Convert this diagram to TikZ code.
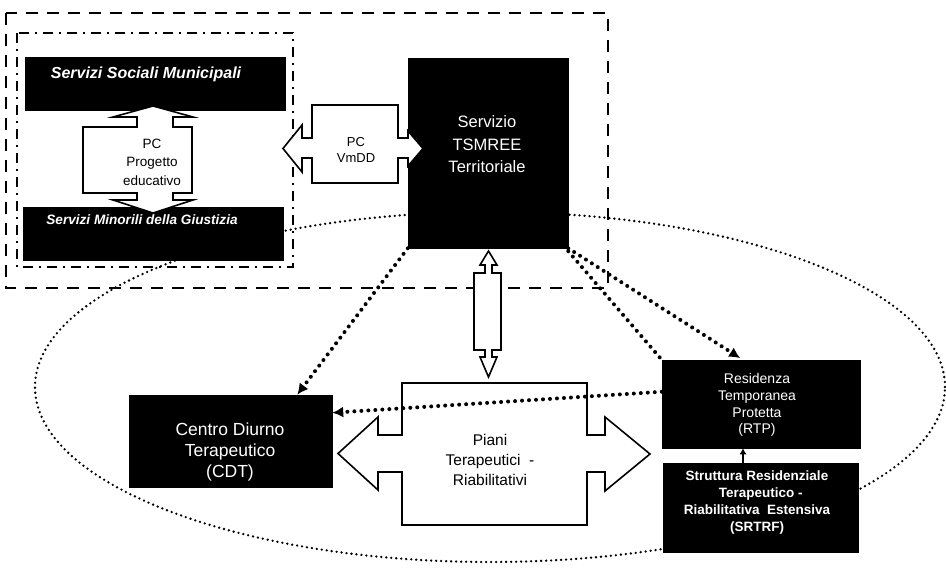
\documentclass[tikz,border=0pt]{standalone}
\usepackage{fontspec}
\setmainfont{Liberation Sans}
\usetikzlibrary{arrows.meta}
\begin{document}
\begin{tikzpicture}[x=1pt,y=-1pt,
  blackbox/.style={fill=black,draw=black,inner sep=0pt,line width=0.5pt},
  wtext/.style={text=white,align=center,inner sep=0pt},
  btext/.style={text=black,align=center,inner sep=0pt},
  callout/.style={draw=black,fill=white,line width=1.6pt,line join=miter},
  outerbox/.style={draw=black,line width=2.6pt,dash pattern=on 12pt off 9pt},
  innerbox/.style={draw=black,line width=2pt,dash pattern=on 10pt off 6pt on 2pt off 6pt},
  orbit/.style={draw=black,line width=2.6pt,line cap=round,dash pattern=on 0pt off 5pt},
  dotline/.style={draw=black,line width=4pt,line cap=round,dash pattern=on 0pt off 7pt},
  dotarrow/.style={dotline,-{Latex[length=11pt,width=11pt]}}]

\fill[white] (0,0) rectangle (946,575);
\useasboundingbox (0,0) rectangle (946,575);

% dotted ellipse (behind everything)
\draw[orbit] (490,387) ellipse [x radius=455pt, y radius=175pt];

% dashed frames
\draw[outerbox] (6,13) rectangle (608,288);
\draw[innerbox] (17,33) rectangle (293,267);

% black boxes
\node[blackbox,minimum width=260pt,minimum height=53pt] (soc) at (155,83.5) {};
\node[blackbox,minimum width=260pt,minimum height=53pt] (min) at (153,233.5) {};
\node[blackbox,minimum width=160pt,minimum height=190pt] (tsm) at (488,153) {};
\node[blackbox,minimum width=203pt,minimum height=92pt] (cdt) at (230.5,441) {};
\node[blackbox,minimum width=198pt,minimum height=88pt] (rtp) at (761,404) {};
\node[blackbox,minimum width=195pt,minimum height=89pt] (srt) at (760.5,507.5) {};

% arrow callout shapes
\draw[callout] (83,127) -- (137,127) -- (137,117) -- (113,117) -- (153,106) -- (193,117)
  -- (173,117) -- (173,127) -- (192,127) -- (192,193) -- (173,193) -- (173,200)
  -- (193,200) -- (153,213) -- (113,200) -- (137,200) -- (137,193) -- (83,193) -- cycle;
\draw[callout] (312,105) -- (398,105) -- (398,138) -- (408,138) -- (408,131) -- (423,148.5)
  -- (408,166) -- (408,158) -- (398,158) -- (398,183) -- (312,183) -- (312,158)
  -- (302,158) -- (302,172) -- (283,148.5) -- (302,125) -- (302,138) -- (312,138) -- cycle;
\draw[callout] (474,273) -- (485,273) -- (485,265) -- (480,265) -- (488.5,251) -- (497,265)
  -- (492,265) -- (492,273) -- (501,273) -- (501,350) -- (492,350) -- (492,357)
  -- (497,357) -- (488.5,377) -- (480,357) -- (485,357) -- (485,350) -- (474,350) -- cycle;
\draw[callout] (402,383) -- (587,383) -- (587,435) -- (605,435) -- (605,417) -- (650,454)
  -- (605,491) -- (605,472) -- (587,472) -- (587,525) -- (402,525) -- (402,472)
  -- (378,472) -- (378,490) -- (338,453.5) -- (378,417) -- (378,435) -- (402,435) -- cycle;

% texts
\node[wtext,font=\bfseries\itshape\fontsize{16}{19}\selectfont] (socT) at (146,74) {Servizi Sociali Municipali};
\node[wtext,font=\bfseries\itshape\fontsize{13.6}{16}\selectfont] (minT) at (142,220) {Servizi Minorili della Giustizia};
\node[wtext,font=\fontsize{16.5}{22.5}\selectfont] (tsmT) at (487,144.5) {Servizio\\TSMREE\\Territoriale};
\node[wtext,font=\fontsize{17.5}{21}\selectfont] (cdtT) at (230,452) {Centro Diurno\\Terapeutico\\(CDT)};
\node[wtext,font=\fontsize{14}{16.8}\selectfont] (rtpT) at (757,405) {Residenza\\Temporanea\\Protetta\\(RTP)};
\node[wtext,font=\bfseries\fontsize{13.5}{17}\selectfont] (srtT) at (757,503) {Struttura Residenziale\\\ \ Terapeutico -\\Riabilitativa \ Estensiva\\(SRTRF)};
\node[btext,font=\fontsize{15.5}{20}\selectfont] (pianiT) at (490,460) {Piani\\Terapeutici \ -\\Riabilitativi};
\node[btext,font=\fontsize{13.5}{18.5}\selectfont] (eduT) at (152,162) {PC\\Progetto\\educativo};
\node[btext,font=\fontsize{13}{15.5}\selectfont] (vmT) at (356,150) {PC\\VmDD};

% dotted connectors
\coordinate (cdtIn) at ([xshift=-35pt]cdt.north east);
\coordinate (rtpIn) at ([xshift=81pt]rtp.north west);
\coordinate (rtpOut) at ([yshift=-32pt]rtp.north west);
\coordinate (cdtSide) at ([yshift=-18pt]cdt.north east);
\coordinate (srtUp) at ([xshift=-17.5pt]srt.north);
\coordinate (rtpDown) at ([xshift=-18pt]rtp.south);

\draw[dotarrow] (tsm.south west) -- (cdtIn);
\draw[dotarrow,shorten >=3pt] (tsm.south east) -- (rtpIn);
\draw[dotline] ([yshift=-3pt]tsm.south east) -- (rtp.north west);
\draw[dotarrow] (rtpOut) -- (cdtSide);
\draw[line width=2pt,-{Latex[length=6pt,width=7pt]}] (srtUp) -- (rtpDown);
\end{tikzpicture}
\end{document}
